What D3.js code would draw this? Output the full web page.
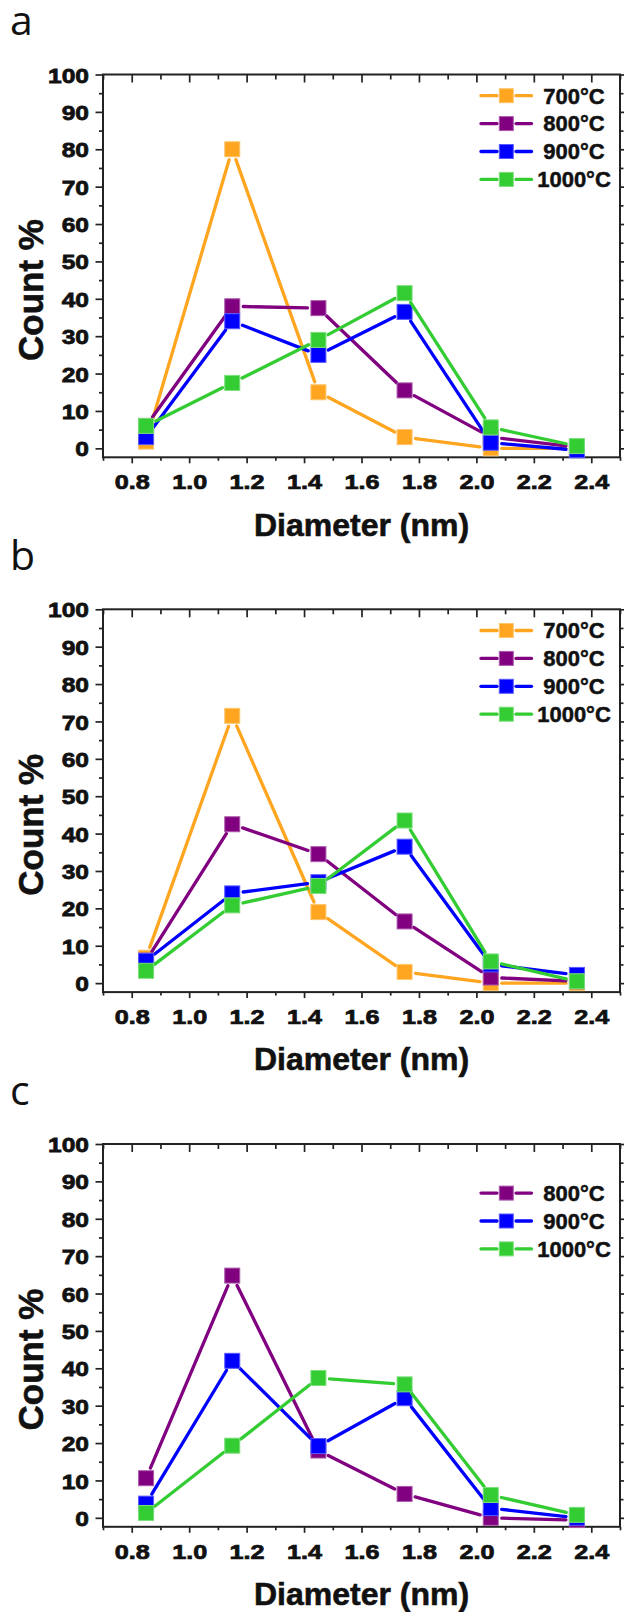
<!DOCTYPE html>
<html>
<head>
<meta charset="utf-8">
<script src="https://cdn.jsdelivr.net/npm/d3@7"></script>
<style>
  body { margin: 0; background: #fff; }
  svg { display: block; }
</style>
</head>
<body>
<svg id="chart" width="624" height="1612"></svg>
<script>
// ---------------- data ----------------
const diameters = [0.85, 1.15, 1.45, 1.75, 2.05, 2.35];
const seriesNames = ["700°C", "800°C", "900°C", "1000°C"];
const seriesColors = ["#FFA51F", "#800080", "#0000FF", "#33CC33"];

const a700  = [1.8, 80, 15, 3, 0, 0];
const a800  = [6, 38, 37.5, 15.5, 3, 0.3];
const a900  = [3, 34, 25, 36.5, 1.5, -0.5];
const a1000 = [6, 17.5, 29, 41.5, 5.6, 0.6];

const b700  = [6.8, 71.5, 19, 3, 0, 0];
const b800  = [6, 42.5, 34.5, 16.5, 1.5, 0.5];
const b900  = [6, 24, 27, 36.5, 5, 2.2];
const b1000 = [3.3, 20.8, 26, 43.5, 5.8, 0.5];

const c800  = [10.6, 64.8, 18, 6.4, 0, -0.6];
const c900  = [3.8, 42, 19.2, 32, 2.6, 0];
const c1000 = [1.3, 19.3, 37.4, 35.7, 6.1, 0.8];

const panelLabels = ["a", "b", "c"];
const yMajorTicks = [0, 10, 20, 30, 40, 50, 60, 70, 80, 90, 100];
const yMinorTicks = [5, 15, 25, 35, 45, 55, 65, 75, 85, 95];
const xMajorTicks = [0.8, 1.0, 1.2, 1.4, 1.6, 1.8, 2.0, 2.2, 2.4];
const xMinorTicks = [0.7, 0.9, 1.1, 1.3, 1.5, 1.7, 1.9, 2.1, 2.3, 2.5];
const xTitle = "Diameter (nm)";
const yTitle = "Count %";

// ---------------- layout ----------------
const panelOffsets = [0, 534.8, 1069.5];
const L = 103, R = 620, T = 74.5, B = 457.3;
const tickFont = "'Liberation Sans', Arial, sans-serif";

const panels = [
  { label: panelLabels[0], series: [
    { name: seriesNames[0], color: seriesColors[0], values: a700 },
    { name: seriesNames[1], color: seriesColors[1], values: a800 },
    { name: seriesNames[2], color: seriesColors[2], values: a900 },
    { name: seriesNames[3], color: seriesColors[3], values: a1000 } ] },
  { label: panelLabels[1], series: [
    { name: seriesNames[0], color: seriesColors[0], values: b700 },
    { name: seriesNames[1], color: seriesColors[1], values: b800 },
    { name: seriesNames[2], color: seriesColors[2], values: b900 },
    { name: seriesNames[3], color: seriesColors[3], values: b1000 } ] },
  { label: panelLabels[2], series: [
    { name: seriesNames[1], color: seriesColors[1], values: c800 },
    { name: seriesNames[2], color: seriesColors[2], values: c900 },
    { name: seriesNames[3], color: seriesColors[3], values: c1000 } ] }
];

const svg = d3.select("#chart");
const x = d3.scaleLinear().domain([0.7, 2.5]).range([L, R]);
const y = d3.scaleLinear().domain([-2.4, 100]).range([B, T]);
const line = d3.line();
const GAP = 11, MS = 15, LW = 3.3;

panels.forEach((p, pi) => {
  const g = svg.append("g").attr("transform", `translate(0,${panelOffsets[pi]})`);

  // panel letter
  g.append("text").attr("x", 10).attr("y", 35)
    .attr("font-family", "'Open Sans', 'Noto Sans', sans-serif")
    .attr("font-size", 41).attr("fill", "#111").text(p.label);

  const styleAxis = sel => {
    sel.select(".domain").remove();
    sel.selectAll(".tick line").attr("stroke", "#222").attr("stroke-width", 1.7);
  };
  const styleLabel = sel => sel
    .attr("font-family", tickFont).attr("font-weight", "bold")
    .attr("font-size", 21).attr("fill", "#111")
    .attr("stroke", "#111").attr("stroke-width", 0.75);

  // minor ticks
  g.append("g").attr("transform", `translate(${L},0)`)
    .call(d3.axisLeft(y).tickValues(yMinorTicks).tickSize(4).tickFormat(""))
    .call(styleAxis);
  g.append("g").attr("transform", `translate(${R},0)`)
    .call(d3.axisLeft(y).tickValues(yMinorTicks).tickSize(-3.5).tickFormat(""))
    .call(styleAxis);
  g.append("g").attr("transform", `translate(0,${B})`)
    .call(d3.axisBottom(x).tickValues(xMinorTicks).tickSize(3.5).tickFormat(""))
    .call(styleAxis);
  g.append("g").attr("transform", `translate(0,${T})`)
    .call(d3.axisTop(x).tickValues(xMinorTicks).tickSize(-5).tickFormat(""))
    .call(styleAxis);

  // major ticks + labels
  const yAx = g.append("g").attr("transform", `translate(${L},0)`)
    .call(d3.axisLeft(y).tickValues(yMajorTicks).tickSize(7.5).tickFormat(d3.format("d")))
    .call(styleAxis);
  yAx.selectAll(".tick text")
    .attr("x", 0).attr("dy", "0.36em")
    .attr("transform", "translate(-14,0) scale(1.17,1)")
    .call(styleLabel);

  g.append("g").attr("transform", `translate(${R},0)`)
    .call(d3.axisLeft(y).tickValues(yMajorTicks).tickSize(-6).tickFormat(""))
    .call(styleAxis);

  const xAx = g.append("g").attr("transform", `translate(0,${B})`)
    .call(d3.axisBottom(x).tickValues(xMajorTicks).tickSize(6).tickFormat(d3.format(".1f")))
    .call(styleAxis);
  xAx.selectAll(".tick text")
    .attr("y", 0).attr("dy", 0)
    .attr("transform", "translate(0,32) scale(1.2,1)")
    .call(styleLabel);

  g.append("g").attr("transform", `translate(0,${T})`)
    .call(d3.axisTop(x).tickValues(xMajorTicks).tickSize(-8).tickFormat(""))
    .call(styleAxis);

  // frame
  g.append("rect").attr("x", L).attr("y", T).attr("width", R - L).attr("height", B - T)
    .attr("fill", "none").attr("stroke", "#222").attr("stroke-width", 2);

  // titles
  g.append("text").attr("transform", `translate(43,290) rotate(-90)`)
    .attr("text-anchor", "middle")
    .attr("font-family", tickFont).attr("font-weight", "bold")
    .attr("font-size", 35).attr("fill", "#111")
    .attr("stroke", "#111").attr("stroke-width", 0.6).text(yTitle);
  g.append("text").attr("x", (L + R) / 2).attr("y", 535.5)
    .attr("text-anchor", "middle")
    .attr("font-family", tickFont).attr("font-weight", "bold")
    .attr("font-size", 32).attr("fill", "#111")
    .attr("stroke", "#111").attr("stroke-width", 0.6).text(xTitle);

  // series
  p.series.forEach(s => {
    const pts = diameters.map((d, i) => [x(d), y(s.values[i])]);
    const sg = g.append("g");
    for (let i = 0; i < pts.length - 1; i++) {
      const [x1, y1] = pts[i], [x2, y2] = pts[i + 1];
      const dx = x2 - x1, dy = y2 - y1, dist = Math.hypot(dx, dy);
      if (dist <= 2 * GAP) continue;
      const ux = dx / dist, uy = dy / dist;
      sg.append("path")
        .attr("d", line([[x1 + ux * GAP, y1 + uy * GAP], [x2 - ux * GAP, y2 - uy * GAP]]))
        .attr("stroke", s.color).attr("stroke-width", LW).attr("fill", "none")
        .attr("stroke-linecap", "round");
    }
    const edge = d3.interpolateRgb(s.color, "#ffffff")(0.35);
    sg.selectAll("rect.m").data(pts).join("rect").attr("class", "m")
      .attr("x", d => d[0] - MS / 2).attr("y", d => d[1] - MS / 2)
      .attr("width", MS).attr("height", MS)
      .attr("fill", s.color).attr("stroke", edge).attr("stroke-width", 1);
  });

  // legend
  const lg = g.append("g");
  p.series.forEach(s => {
    const slot = seriesNames.indexOf(s.name);
    const cy = 95.7 + slot * 27.9;
    lg.append("path").attr("d", line([[481, cy], [497, cy]]))
      .attr("stroke", s.color).attr("stroke-width", LW).attr("stroke-linecap", "round");
    lg.append("path").attr("d", line([[516, cy], [531.5, cy]]))
      .attr("stroke", s.color).attr("stroke-width", LW).attr("stroke-linecap", "round");
    lg.append("rect").attr("x", 506.3 - 7).attr("y", cy - 7)
      .attr("width", 14).attr("height", 14)
      .attr("fill", s.color).attr("stroke", d3.interpolateRgb(s.color, "#ffffff")(0.35)).attr("stroke-width", 1);
    lg.append("text").attr("x", 574).attr("y", cy + 7.8)
      .attr("text-anchor", "middle")
      .attr("font-family", tickFont).attr("font-weight", "bold")
      .attr("font-size", 22).attr("fill", "#111")
      .attr("stroke", "#111").attr("stroke-width", 0.5).text(s.name);
  });
});
</script>
</body>
</html>
